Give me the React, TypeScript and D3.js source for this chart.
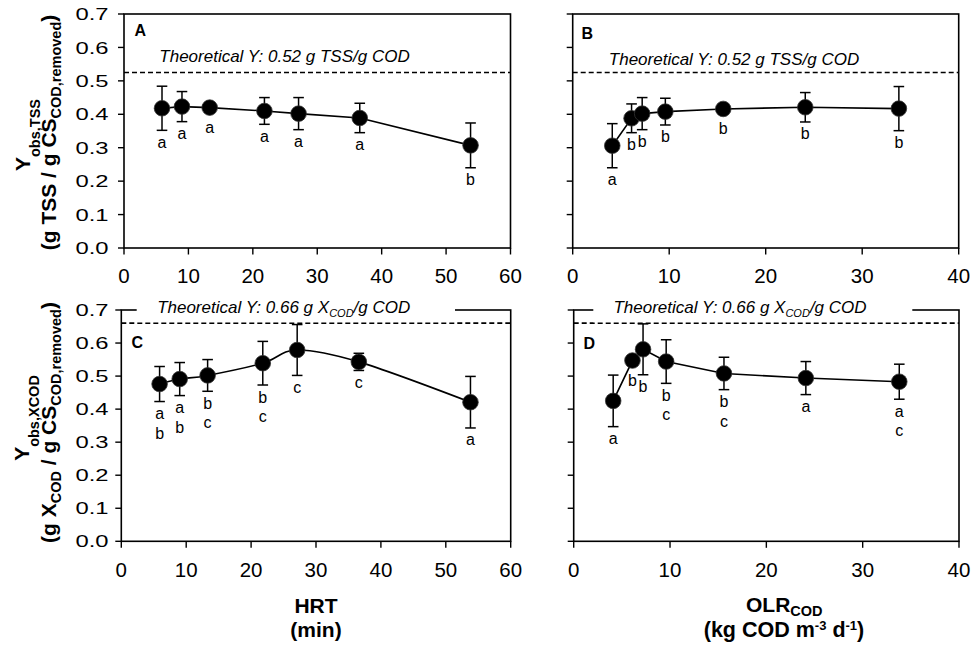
import React, { useEffect, useRef } from "react";
import * as d3 from "d3";

// ---------- data ----------
const hrtMin = [5.9, 9.0, 13.3, 21.8, 27.1, 36.6, 53.8];
const olrCod = [4.1, 6.1, 7.2, 9.6, 15.6, 24.1, 33.8];

const yTssHrt = [0.418, 0.423, 0.42, 0.41, 0.402, 0.389, 0.307];
const errTssHrt = [0.066, 0.045, 0.005, 0.04, 0.048, 0.044, 0.067];
const lettersTssHrt = [["a"], ["a"], ["a"], ["a"], ["a"], ["a"], ["b"]];

const yTssOlr = [0.306, 0.388, 0.402, 0.408, 0.416, 0.421, 0.417];
const errTssOlr = [0.066, 0.043, 0.048, 0.04, 0.005, 0.044, 0.066];
const lettersTssOlr = [["a"], ["b"], ["b"], ["b"], ["b"], ["b"], ["b"]];

const yXcodHrt = [0.476, 0.491, 0.502, 0.539, 0.579, 0.543, 0.421];
const errXcodHrt = [0.053, 0.05, 0.048, 0.066, 0.077, 0.026, 0.078];
const lettersXcodHrt = [["a", "b"], ["a", "b"], ["b", "c"], ["b", "c"], ["c"], ["c"], ["a"]];

const yXcodOlr = [0.425, 0.547, 0.581, 0.544, 0.508, 0.494, 0.483];
const errXcodOlr = [0.078, 0.01, 0.077, 0.066, 0.049, 0.05, 0.053];
const lettersXcodOlr = [["a"], ["b"], ["b"], ["b", "c"], ["b", "c"], ["a"], ["a", "c"]];

const theoTss = 0.525;
const theoXcod = 0.66;

const yTicks = [0, 0.1, 0.2, 0.3, 0.4, 0.5, 0.6, 0.7];
const yTickLabels = ["0.0", "0.1", "0.2", "0.3", "0.4", "0.5", "0.6", "0.7"];
const hrtTicks = [0, 10, 20, 30, 40, 50, 60];
const olrTicks = [0, 10, 20, 30, 40];

const FONT = "'Liberation Sans', Arial, Helvetica, sans-serif";

type Part = { t: string; sub?: boolean };

interface Panel {
  tag: string;
  left: number; right: number; top: number; bottom: number;
  xMax: number; xTicks: number[];
  xs: number[]; ys: number[]; es: number[]; letters: string[][];
  theo: number; theoParts: Part[]; textCx: number; textBase: number;
  box: [number, number] | null;
  tagX: number; tagBase: number;
  yLabels: boolean; smooth: boolean;
}

const panels: Panel[] = [
  {
    tag: "A", left: 124, right: 510.5, top: 14, bottom: 248, xMax: 60, xTicks: hrtTicks,
    xs: hrtMin, ys: yTssHrt, es: errTssHrt, letters: lettersTssHrt,
    theo: theoTss, theoParts: [{ t: "Theoretical Y: 0.52 g TSS/g COD" }], textCx: 284.5, textBase: 62,
    box: null, tagX: 134.5, tagBase: 35.5, yLabels: true, smooth: false,
  },
  {
    tag: "B", left: 572.7, right: 958.7, top: 14, bottom: 248, xMax: 40, xTicks: olrTicks,
    xs: olrCod, ys: yTssOlr, es: errTssOlr, letters: lettersTssOlr,
    theo: theoTss, theoParts: [{ t: "Theoretical Y: 0.52 g TSS/g COD" }], textCx: 734, textBase: 64.5,
    box: null, tagX: 581.5, tagBase: 38.5, yLabels: false, smooth: false,
  },
  {
    tag: "C", left: 121.3, right: 510.7, top: 310, bottom: 541.3, xMax: 60, xTicks: hrtTicks,
    xs: hrtMin, ys: yXcodHrt, es: errXcodHrt, letters: lettersXcodHrt,
    theo: theoXcod,
    theoParts: [{ t: "Theoretical Y: 0.66 g X" }, { t: "COD", sub: true }, { t: "/g COD" }],
    textCx: 283.7, textBase: 313, box: [136.7, 455],
    tagX: 131.5, tagBase: 348, yLabels: true, smooth: true,
  },
  {
    tag: "D", left: 573.7, right: 959, top: 310, bottom: 541.3, xMax: 40, xTicks: olrTicks,
    xs: olrCod, ys: yXcodOlr, es: errXcodOlr, letters: lettersXcodOlr,
    theo: theoXcod,
    theoParts: [{ t: "Theoretical Y: 0.66 g X" }, { t: "COD", sub: true }, { t: "/g COD" }],
    textCx: 740, textBase: 313, box: [593.3, 912.3],
    tagX: 583.5, tagBase: 348.5, yLabels: false, smooth: false,
  },
];

function addParts(text: any, parts: Part[], subSize: number, subDy: number) {
  let down = false;
  parts.forEach((p) => {
    const ts = text.append("tspan").text(p.t);
    if (p.sub) {
      ts.attr("font-size", subSize).attr("dy", subDy);
      down = true;
    } else if (down) {
      ts.attr("dy", -subDy);
      down = false;
    }
  });
}

function drawPanel(svg: any, p: Panel) {
  const x = d3.scaleLinear().domain([0, p.xMax]).range([p.left, p.right]);
  const y = d3.scaleLinear().domain([0, 0.7]).range([p.bottom, p.top]);
  const g = svg.append("g");

  // frame
  g.append("rect")
    .attr("x", p.left).attr("y", p.top)
    .attr("width", p.right - p.left).attr("height", p.bottom - p.top)
    .attr("fill", "none").attr("stroke", "#000").attr("stroke-width", 1.6);

  // y ticks
  g.selectAll(".yt").data(yTicks).enter().append("line")
    .attr("x1", p.left - 6).attr("x2", p.left)
    .attr("y1", (d: number) => y(d)).attr("y2", (d: number) => y(d))
    .attr("stroke", "#000").attr("stroke-width", 1.4);
  if (p.yLabels) {
    g.selectAll(".yl").data(yTicks).enter().append("text")
      .attr("transform", (d: number) => `translate(108.5,${y(d)}) scale(1.4,1)`)
      .attr("dy", "0.36em")
      .attr("text-anchor", "end")
      .attr("font-family", FONT).attr("font-size", 17)
      .text((_: number, i: number) => yTickLabels[i]);
  }
  // x ticks
  g.selectAll(".xt").data(p.xTicks).enter().append("line")
    .attr("x1", (d: number) => x(d)).attr("x2", (d: number) => x(d))
    .attr("y1", p.bottom).attr("y2", p.bottom + 6.5)
    .attr("stroke", "#000").attr("stroke-width", 1.4);
  g.selectAll(".xl").data(p.xTicks).enter().append("text")
    .attr("x", (d: number) => x(d)).attr("y", p.bottom + 35.2)
    .attr("text-anchor", "middle")
    .attr("font-family", FONT).attr("font-size", 20.5)
    .text((d: number) => String(d));

  // theoretical line
  const ty = y(p.theo);
  g.append("line")
    .attr("x1", p.left).attr("x2", p.right).attr("y1", ty).attr("y2", ty)
    .attr("stroke", "#000").attr("stroke-width", 1.7).attr("stroke-dasharray", "5,3");
  if (p.box) {
    g.append("rect")
      .attr("x", p.box[0]).attr("y", p.top - 14)
      .attr("width", p.box[1] - p.box[0]).attr("height", ty - 0.9 - (p.top - 14))
      .attr("fill", "#fff");
  }
  const tt = g.append("text")
    .attr("x", p.textCx).attr("y", p.textBase)
    .attr("text-anchor", "middle")
    .attr("font-family", FONT).attr("font-size", 17).attr("font-style", "italic");
  addParts(tt, p.theoParts, 11, 4);

  // panel tag
  g.append("text")
    .attr("x", p.tagX).attr("y", p.tagBase)
    .attr("font-family", FONT).attr("font-size", 16).attr("font-weight", "bold")
    .text(p.tag);

  // data line
  const pts = p.xs.map((v, i) => [x(v), y(p.ys[i])] as [number, number]);
  const line = d3.line().curve(p.smooth ? d3.curveCardinal.tension(0) : d3.curveLinear);
  g.append("path").attr("d", line(pts)).attr("fill", "none")
    .attr("stroke", "#000").attr("stroke-width", 1.6);

  // error bars
  const capW = 5.3;
  p.xs.forEach((v, i) => {
    const cx = x(v);
    const y1 = y(p.ys[i] + p.es[i]);
    const y2 = y(p.ys[i] - p.es[i]);
    g.append("line").attr("x1", cx).attr("x2", cx).attr("y1", y1).attr("y2", y2)
      .attr("stroke", "#000").attr("stroke-width", 1.5);
    [y1, y2].forEach((yy) => {
      g.append("line").attr("x1", cx - capW).attr("x2", cx + capW).attr("y1", yy).attr("y2", yy)
        .attr("stroke", "#000").attr("stroke-width", 1.5);
    });
  });

  // markers
  const r = 7.8;
  g.selectAll(".pt").data(pts).enter().append("circle")
    .attr("cx", (d: [number, number]) => d[0]).attr("cy", (d: [number, number]) => d[1])
    .attr("r", r).attr("fill", "#000").attr("stroke", "#333").attr("stroke-width", 0.8);

  // significance letters
  p.xs.forEach((v, i) => {
    const cx = x(v);
    const low = Math.max(y(p.ys[i] - p.es[i]), y(p.ys[i]) + r);
    p.letters[i].forEach((l, j) => {
      g.append("text")
        .attr("x", cx).attr("y", low + 17.5 + j * 19.5)
        .attr("text-anchor", "middle")
        .attr("font-family", FONT).attr("font-size", 16)
        .text(l);
    });
  });
}

function drawTitles(svg: any) {
  const bold = (t: any) => t.attr("font-family", FONT).attr("font-weight", "bold").attr("text-anchor", "middle");

  // Y title A
  const a1 = bold(svg.append("text")).attr("transform", "translate(30,135) rotate(-90)").attr("font-size", 21);
  addParts(a1, [{ t: "Y" }, { t: "obs,TSS", sub: true }], 14.5, 10);
  const a2 = bold(svg.append("text")).attr("transform", "translate(56,132.5) rotate(-90)").attr("font-size", 21);
  addParts(a2, [{ t: "(g TSS / g CS" }, { t: "COD,removed", sub: true }, { t: ")" }], 14.5, 4.5);

  // Y title C
  const c1 = bold(svg.append("text")).attr("transform", "translate(28.5,418) rotate(-90)").attr("font-size", 21);
  addParts(c1, [{ t: "Y" }, { t: "obs,XCOD", sub: true }], 14.5, 10);
  const c2 = bold(svg.append("text")).attr("transform", "translate(56,422.5) rotate(-90)").attr("font-size", 21);
  addParts(c2, [
    { t: "(g X" }, { t: "COD", sub: true }, { t: " / g CS" }, { t: "COD,removed", sub: true }, { t: ")" },
  ], 14.5, 4.5);

  // X title C
  bold(svg.append("text")).attr("x", 316).attr("y", 612.8).attr("font-size", 21).text("HRT");
  bold(svg.append("text")).attr("x", 316).attr("y", 637).attr("font-size", 21).text("(min)");

  // X title D
  const d1 = bold(svg.append("text")).attr("x", 784.3).attr("y", 612).attr("font-size", 21);
  addParts(d1, [{ t: "OLR" }, { t: "COD", sub: true }], 14.5, 3.5);
  const d2 = bold(svg.append("text")).attr("x", 784).attr("y", 636.7).attr("font-size", 21.5);
  d2.append("tspan").text("(kg COD m");
  d2.append("tspan").attr("font-size", 13).attr("dy", -7).text("-3");
  d2.append("tspan").attr("dy", 7).text(" d");
  d2.append("tspan").attr("font-size", 13).attr("dy", -7).text("-1");
  d2.append("tspan").attr("dy", 7).text(")");
}

export default function App() {
  const ref = useRef<SVGSVGElement>(null);
  useEffect(() => {
    const svg = d3.select(ref.current);
    svg.selectAll("*").remove();
    panels.forEach((p) => drawPanel(svg, p));
    drawTitles(svg);
  }, []);
  return (
    <svg
      ref={ref}
      width={974}
      height={645}
      style={{ position: "absolute", left: 0, top: 0, background: "#fff" }}
    />
  );
}
